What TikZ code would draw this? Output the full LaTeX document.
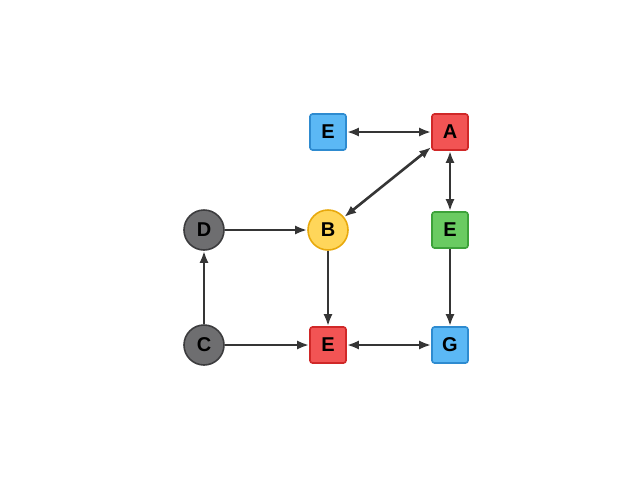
\documentclass[tikz,border=0pt]{standalone}
\usepackage{fontspec}
\setmainfont{Liberation Sans}
\usepackage{tikz}
\usepackage{xcolor}
\usetikzlibrary{arrows.meta}
\definecolor{boxblue}{HTML}{5BB8F5}
\definecolor{lineblue}{HTML}{2E8BD0}
\definecolor{boxred}{HTML}{F25454}
\definecolor{linered}{HTML}{D02828}
\definecolor{boxgreen}{HTML}{6ACB62}
\definecolor{linegreen}{HTML}{3DA23A}
\definecolor{boxyellow}{HTML}{FFD65A}
\definecolor{lineyellow}{HTML}{E8A90C}
\definecolor{boxgray}{HTML}{6E6E70}
\definecolor{linegray}{HTML}{3C3C3E}
\definecolor{arrowgray}{HTML}{353535}
\tikzset{%
  tipA/.tip={Latex[length=12pt,width=9pt]},
  sq/.style={draw, line width=1.6pt, rounded corners=2.5pt, minimum size=36pt,
    inner sep=0pt, font=\fontsize{20}{20}\selectfont\bfseries},
  rd/.style={draw, circle, line width=1.6pt, minimum size=40pt,
    inner sep=0pt, font=\fontsize{20}{20}\selectfont\bfseries},
  link/.style={arrowgray, line width=2.6pt}
}

\begin{document}
\begin{tikzpicture}[x=1pt,y=-1pt]
    \useasboundingbox (0,0) rectangle (640,480);
    \node[sq, fill=boxblue, draw=lineblue] (eTop) at (328,132) {E};
    \node[sq, fill=boxred, draw=linered] (a) at (450,132) {A};
    \node[rd, fill=boxyellow, draw=lineyellow] (b) at (328,230) {B};
    \node[rd, fill=boxgray, draw=linegray] (d) at (204,230) {D};
    \node[sq, fill=boxgreen, draw=linegreen] (eMid) at (450,230) {E};
    \node[rd, fill=boxgray, draw=linegray] (c) at (204,345) {C};
    \node[sq, fill=boxred, draw=linered] (eBot) at (328,345) {E};
    \node[sq, fill=boxblue, draw=lineblue] (g) at (450,345) {G};
   % connectors
    \draw[link, tipA-tipA] (eTop) -- (a);
    \draw[link, tipA-tipA] (a) -- (b);
    \draw[link, tipA-tipA] (a) -- (eMid);
    \draw[link, -tipA] (d) -- (b);
    \draw[link, -tipA] (b) -- (eBot);
    \draw[link, -tipA] (c) -- (d);
    \draw[link, -tipA] (c) -- (eBot);
    \draw[link, tipA-tipA] (eBot) -- (g);
    \draw[link, -tipA] (eMid) -- (g);
\end{tikzpicture}
\end{document}
